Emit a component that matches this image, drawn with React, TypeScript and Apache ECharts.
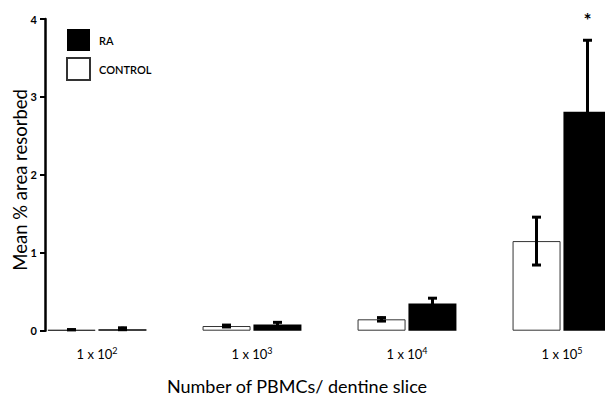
import React, { useEffect, useRef } from "react";
import * as echarts from "echarts";

const categories = ["1 x 10{s|2}", "1 x 10{s|3}", "1 x 10{s|4}", "1 x 10{s|5}"];
const controlMeans = [0.01, 0.06, 0.146, 1.15];
const controlErrors = [0.015, 0.025, 0.035, 0.32];
const raMeans = [0.02, 0.08, 0.35, 2.81];
const raErrors = [0.03, 0.04, 0.08, 0.93];
const raSignificant = [0, 0, 0, 1];
const yTicks = { min: 0, max: 4, interval: 1 };

const FONT = "Lato";

function errorRenderer(offset: number) {
  return (params: any, api: any) => {
    const i = api.value(0);
    const m = api.value(1);
    const e = api.value(2);
    const sig = api.value(3);
    const top = api.coord([i, m + e]);
    const bot = api.coord([i, Math.max(0, m - e)]);
    const x = top[0] + offset;
    const children: any[] = [
      { type: "line", shape: { x1: x, y1: top[1], x2: x, y2: bot[1] }, style: { stroke: "#000", lineWidth: 3 } },
      { type: "line", shape: { x1: x - 4.5, y1: top[1] + 1, x2: x + 4.5, y2: top[1] + 1 }, style: { stroke: "#000", lineWidth: 3 } },
      { type: "line", shape: { x1: x - 4.5, y1: bot[1] - 1, x2: x + 4.5, y2: bot[1] - 1 }, style: { stroke: "#000", lineWidth: 3 } },
    ];
    if (sig) {
      children.push({
        type: "text",
        x: x,
        y: top[1] - 29,
        style: { text: "*", fill: "#000", font: `bold 19px ${FONT}`, align: "center", verticalAlign: "top" },
      });
    }
    return { type: "group", children };
  };
}

export default function App() {
  const ref = useRef<HTMLDivElement>(null);
  useEffect(() => {
    if (!ref.current) return;
    const chart = echarts.init(ref.current, undefined, { renderer: "svg" });
    chart.setOption({
      animation: false,
      backgroundColor: "#fff",
      textStyle: { fontFamily: FONT, color: "#000" },
      grid: { left: 19.5, right: -34.5, top: 19, bottom: 65.3, containLabel: false, outerBoundsMode: "none" },
      legend: {
        data: ["RA", "CONTROL"],
        orient: "vertical",
        left: 66,
        top: 29,
        padding: 0,
        itemWidth: 23,
        itemHeight: 22,
        itemGap: 6,
        icon: "rect",
        textStyle: { fontFamily: FONT, fontSize: 11, fontWeight: 600, color: "#000", padding: [0, 0, 0, 4] },
      },
      xAxis: {
        type: "category",
        data: categories,
        axisLine: { show: false },
        axisTick: { show: false },
        axisLabel: {
          margin: 15,
          fontSize: 13,
          color: "#000",
          fontFamily: FONT,
          formatter: (v: string) => v,
          rich: { s: { fontSize: 9, verticalAlign: "top", padding: [0, 0, 8, 0], color: "#000", fontFamily: FONT } },
        },
        name: "Number of PBMCs/ dentine slice",
        nameLocation: "middle",
        nameGap: 46,
        nameMoveOverlap: false,
        nameTextStyle: { fontSize: 18, color: "#000", fontFamily: FONT, padding: [0, 65, 0, 0] },
      },
      yAxis: {
        type: "value",
        min: yTicks.min,
        max: yTicks.max,
        interval: yTicks.interval,
        offset: -25.5,
        splitLine: { show: false },
        axisLine: { show: true, lineStyle: { color: "#000", width: 2.5 } },
        axisTick: { show: true, length: 5, lineStyle: { color: "#000", width: 2 } },
        axisLabel: { color: "#000", fontSize: 11, fontWeight: "bold", margin: 8, fontFamily: FONT },
        name: "Mean % area resorbed",
        nameLocation: "middle",
        nameGap: 16,
        nameMoveOverlap: false,
        nameTextStyle: { fontSize: 18.5, color: "#000", fontFamily: FONT, padding: [0, 10, 0, 0] },
      },
      series: [
        {
          name: "CONTROL",
          type: "bar",
          data: controlMeans,
          barWidth: 48,
          barGap: "6%",
          itemStyle: { color: "#fff", borderColor: "#333", borderWidth: 1 },
        },
        {
          name: "RA",
          type: "bar",
          data: raMeans,
          barWidth: 48,
          barGap: "6%",
          itemStyle: { color: "#000" },
        },
        {
          name: "ctrlErr",
          type: "custom",
          renderItem: errorRenderer(-25.5),
          data: controlMeans.map((m, i) => [i, m, controlErrors[i], 0]),
          encode: { x: 0, y: 1 },
          z: 5,
        },
        {
          name: "raErr",
          type: "custom",
          renderItem: errorRenderer(25.5),
          data: raMeans.map((m, i) => [i, m, raErrors[i], raSignificant[i]]),
          encode: { x: 0, y: 1 },
          z: 5,
        },
      ],
    });
    return () => chart.dispose();
  }, []);
  return (
    <div
      ref={ref}
      style={{ position: "fixed", left: 0, top: 0, width: 605, height: 396, background: "#fff" }}
    />
  );
}
